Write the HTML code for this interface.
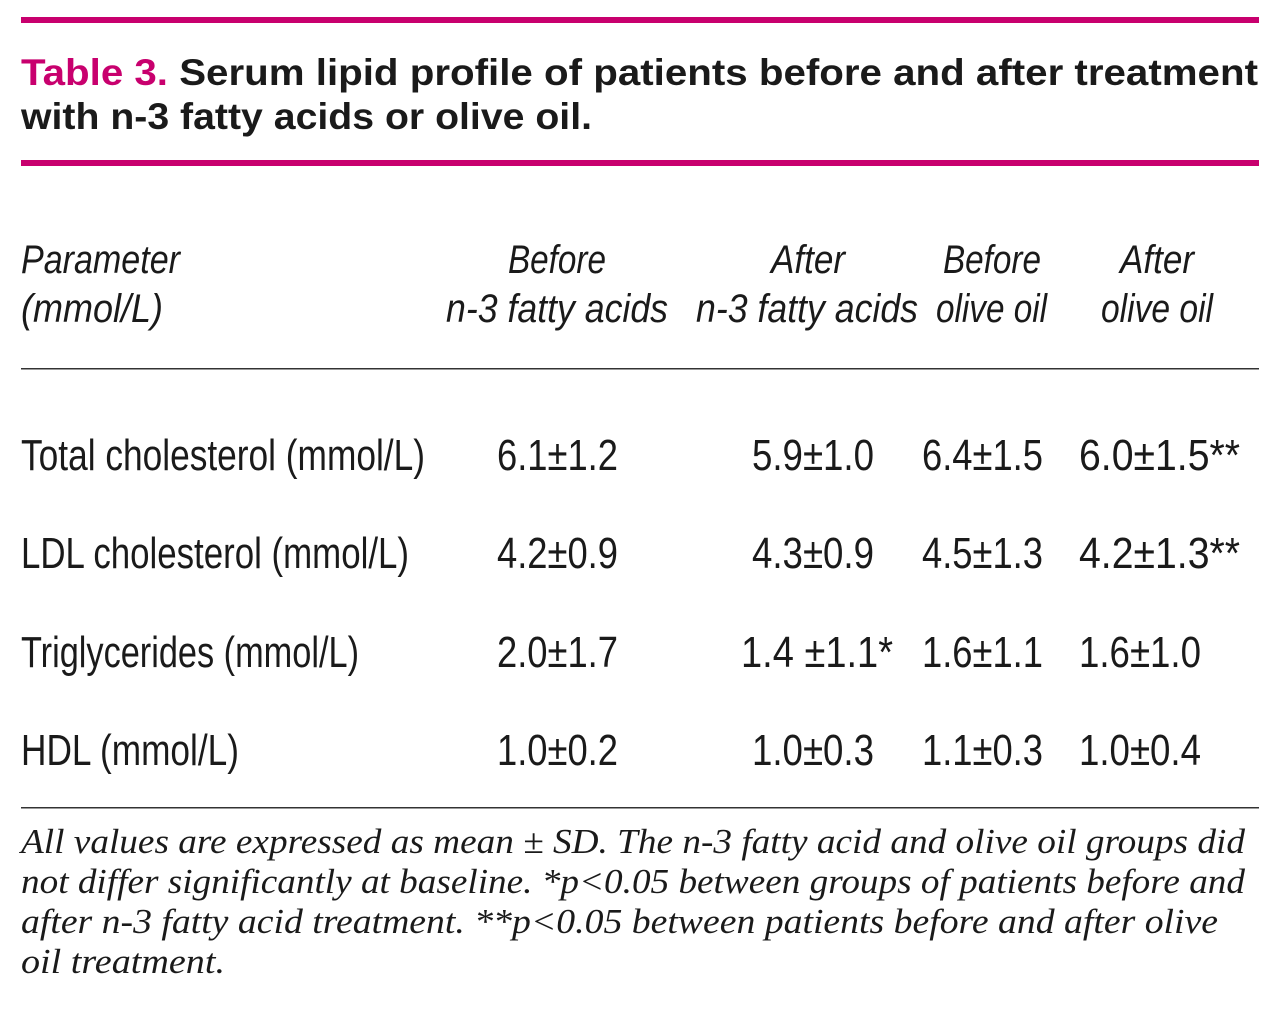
<!DOCTYPE html>
<html><head><meta charset="utf-8"><style>
html,body{margin:0;padding:0;background:#fff;}
svg{display:block}
.t{font-family:"Liberation Sans",sans-serif;font-weight:bold;font-size:37px;fill:#1a1a1a}
.h{font-family:"Liberation Sans",sans-serif;font-style:italic;font-size:40px;fill:#1a1a1a}
.r{font-family:"Liberation Sans",sans-serif;font-size:44px;fill:#1a1a1a}
.f{font-family:"Liberation Serif",serif;font-style:italic;font-size:35px;fill:#1a1a1a}
</style></head><body>
<svg width="1280" height="1012" viewBox="0 0 1280 1012" xmlns="http://www.w3.org/2000/svg">
<rect x="21" y="17" width="1238" height="6" fill="#c8006e"/>
<rect x="21" y="160" width="1238" height="6" fill="#c8006e"/>
<text class="t" x="21" y="85" textLength="1237" lengthAdjust="spacingAndGlyphs"><tspan fill="#c8006e">Table 3.</tspan> Serum lipid profile of patients before and after treatment</text>
<text class="t" x="21" y="129" textLength="571" lengthAdjust="spacingAndGlyphs">with n-3 fatty acids or olive oil.</text>

<text class="h" x="21" y="273" textLength="159" lengthAdjust="spacingAndGlyphs">Parameter</text>
<text class="h" x="21" y="322" textLength="142" lengthAdjust="spacingAndGlyphs">(mmol/L)</text>
<text class="h" x="508" y="273" textLength="98" lengthAdjust="spacingAndGlyphs">Before</text>
<text class="h" x="446" y="322" textLength="222" lengthAdjust="spacingAndGlyphs">n-3 fatty acids</text>
<text class="h" x="771" y="273" textLength="74" lengthAdjust="spacingAndGlyphs">After</text>
<text class="h" x="696" y="322" textLength="222" lengthAdjust="spacingAndGlyphs">n-3 fatty acids</text>
<text class="h" x="943" y="273" textLength="98" lengthAdjust="spacingAndGlyphs">Before</text>
<text class="h" x="936" y="322" textLength="111" lengthAdjust="spacingAndGlyphs">olive oil</text>
<text class="h" x="1120" y="273" textLength="74" lengthAdjust="spacingAndGlyphs">After</text>
<text class="h" x="1101" y="322" textLength="112" lengthAdjust="spacingAndGlyphs">olive oil</text>

<rect x="21" y="368" width="1238" height="1.5" fill="#333"/>

<text class="r" x="21" y="470" textLength="404" lengthAdjust="spacingAndGlyphs">Total cholesterol (mmol/L)</text>
<text class="r" x="497" y="470" textLength="121" lengthAdjust="spacingAndGlyphs">6.1±1.2</text>
<text class="r" x="752" y="470" textLength="122" lengthAdjust="spacingAndGlyphs">5.9±1.0</text>
<text class="r" x="922" y="470" textLength="121" lengthAdjust="spacingAndGlyphs">6.4±1.5</text>
<text class="r" x="1079" y="470" textLength="161" lengthAdjust="spacingAndGlyphs">6.0±1.5**</text>

<text class="r" x="21" y="568" textLength="388" lengthAdjust="spacingAndGlyphs">LDL cholesterol (mmol/L)</text>
<text class="r" x="497" y="568" textLength="121" lengthAdjust="spacingAndGlyphs">4.2±0.9</text>
<text class="r" x="752" y="568" textLength="122" lengthAdjust="spacingAndGlyphs">4.3±0.9</text>
<text class="r" x="922" y="568" textLength="121" lengthAdjust="spacingAndGlyphs">4.5±1.3</text>
<text class="r" x="1079" y="568" textLength="161" lengthAdjust="spacingAndGlyphs">4.2±1.3**</text>

<text class="r" x="21" y="667" textLength="338" lengthAdjust="spacingAndGlyphs">Triglycerides (mmol/L)</text>
<text class="r" x="497" y="667" textLength="121" lengthAdjust="spacingAndGlyphs">2.0±1.7</text>
<text class="r" x="741" y="667" textLength="152" lengthAdjust="spacingAndGlyphs">1.4 ±1.1*</text>
<text class="r" x="922" y="667" textLength="121" lengthAdjust="spacingAndGlyphs">1.6±1.1</text>
<text class="r" x="1079" y="667" textLength="122" lengthAdjust="spacingAndGlyphs">1.6±1.0</text>

<text class="r" x="21" y="765" textLength="218" lengthAdjust="spacingAndGlyphs">HDL (mmol/L)</text>
<text class="r" x="497" y="765" textLength="121" lengthAdjust="spacingAndGlyphs">1.0±0.2</text>
<text class="r" x="752" y="765" textLength="122" lengthAdjust="spacingAndGlyphs">1.0±0.3</text>
<text class="r" x="922" y="765" textLength="121" lengthAdjust="spacingAndGlyphs">1.1±0.3</text>
<text class="r" x="1079" y="765" textLength="122" lengthAdjust="spacingAndGlyphs">1.0±0.4</text>

<rect x="21" y="807" width="1238" height="1.5" fill="#333"/>

<text class="f" x="21" y="853" textLength="1224" lengthAdjust="spacingAndGlyphs">All values are expressed as mean ± SD. The n-3 fatty acid and olive oil groups did</text>
<text class="f" x="21" y="893" textLength="1224" lengthAdjust="spacingAndGlyphs">not differ significantly at baseline. *p&lt;0.05 between groups of patients before and</text>
<text class="f" x="21" y="933" textLength="1197" lengthAdjust="spacingAndGlyphs">after n-3 fatty acid treatment. **p&lt;0.05 between patients before and after olive</text>
<text class="f" x="21" y="973" textLength="204" lengthAdjust="spacingAndGlyphs">oil treatment.</text>
</svg>
</body></html>
